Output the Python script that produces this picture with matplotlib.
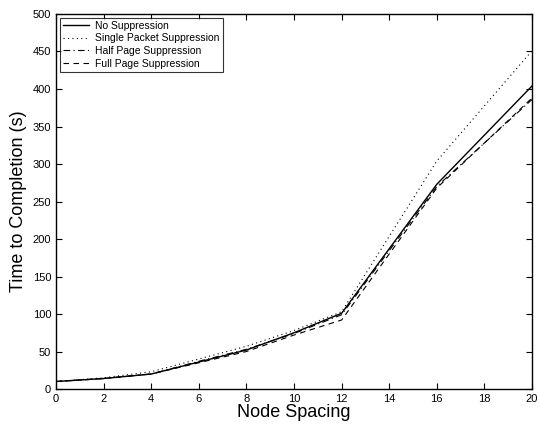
import matplotlib
matplotlib.use("Agg")
import matplotlib.pyplot as plt

plt.rcParams['font.family'] = ['Liberation Sans', 'DejaVu Sans']

spacing = [0, 2, 4, 6, 8, 10, 12, 16, 20]
no_supp = [10, 14, 20, 36, 52, 75, 101, 273, 404]
single_packet = [10, 15, 23, 40, 57, 78, 103, 304, 451]
half_page = [10, 14, 20, 37, 53, 74, 99, 270, 386]
full_page = [10, 14, 20, 35, 50, 72, 92, 268, 388]

labels = ['No Suppression', 'Single Packet Suppression',
          'Half Page Suppression', 'Full Page Suppression']

fig = plt.figure(figsize=(5.39, 4.24), dpi=100)
ax = fig.add_axes([0.104, 0.0825, 0.883, 0.8845])

ax.plot(spacing, no_supp, color='black', lw=1.0, ls='-', label=labels[0])
ax.plot(spacing, single_packet, color='black', lw=0.8, ls=(0, (1, 3)), label=labels[1])
ax.plot(spacing, half_page, color='black', lw=0.8, ls=(0, (6, 3, 1, 3)), label=labels[2])
ax.plot(spacing, full_page, color='black', lw=0.8, ls=(0, (5, 4)), label=labels[3])

ax.set_xlim(0, 20)
ax.set_ylim(0, 500)
ax.set_xticks(range(0, 21, 2))
ax.set_yticks(range(0, 501, 50))
ax.tick_params(direction='in', top=True, right=True, labelsize=8, length=4, width=0.8)
for s in ax.spines.values():
    s.set_linewidth(1.0)

ax.set_xlabel('Node Spacing', fontsize=13, labelpad=0)
ax.set_ylabel('Time to Completion (s)', fontsize=13, labelpad=4)

leg = ax.legend(loc='upper left', fontsize=7.5, frameon=True, fancybox=False,
                edgecolor='black', borderaxespad=0.35, handlelength=2.5,
                labelspacing=0.25, borderpad=0.3, handletextpad=0.6)
leg.get_frame().set_linewidth(0.8)

fig.savefig('out.png', dpi=100)
